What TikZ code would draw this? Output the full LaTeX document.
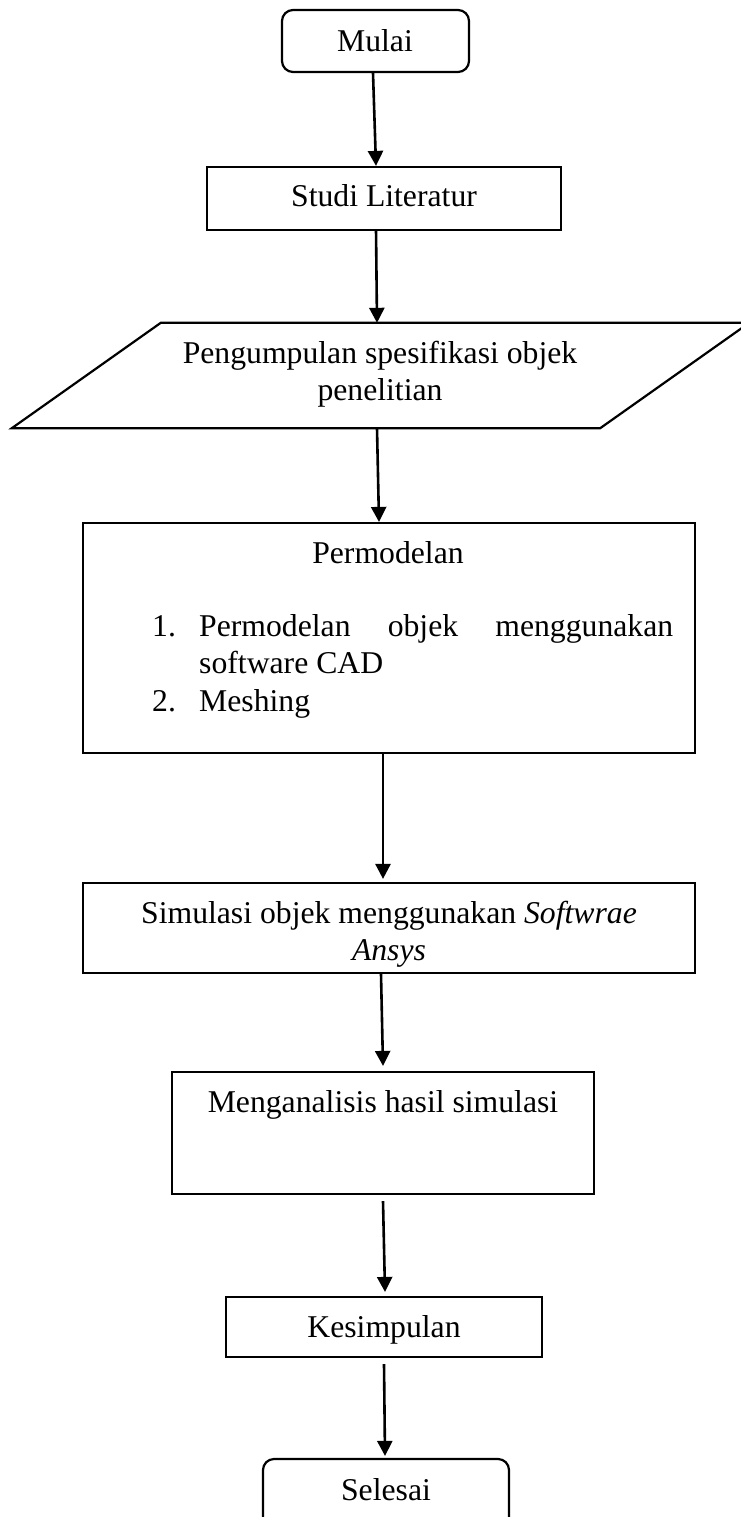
\documentclass[tikz,border=0pt]{standalone}
\usepackage{fontspec}
\setmainfont{Liberation Serif}
\usetikzlibrary{arrows.meta}
\tikzset{
 box/.style={draw, line width=2.2pt, inner sep=0pt, rectangle},
 rbox/.style={box, rounded corners=11pt},
 ghost/.style={inner sep=0pt, rectangle},
 txt/.style={font=\fontsize{31.7pt}{37pt}\selectfont, inner sep=0pt, anchor=base},
 ltxt/.style={txt, anchor=base west},
 arr/.style={line width=2.6pt, -{Triangle[width=15pt,length=15pt]}},
}
\begin{document}
\begin{tikzpicture}[x=1pt,y=-1pt]
\useasboundingbox (0,0) rectangle (741,1517);
% boxes
\node[rbox, minimum width=187pt, minimum height=62pt] (mulai) at (375.5,41) {};
\node[box, minimum width=354pt, minimum height=63pt] (studi) at (384,198.5) {};
\node[ghost, minimum width=737pt, minimum height=105pt] (peng) at (380.5,375.5) {};
\draw[line width=2.2pt] (peng.south west) -- ([xshift=149pt]peng.north west) -- (peng.north east) -- ([xshift=-149pt]peng.south east) -- cycle;
\node[box, minimum width=612pt, minimum height=230pt] (perm) at (389,638) {};
\node[box, minimum width=612pt, minimum height=90pt] (sim) at (389,928) {};
\node[box, minimum width=422pt, minimum height=122pt] (meng) at (383,1133) {};
\node[box, minimum width=316pt, minimum height=60pt] (kes) at (384,1327) {};
\node[rbox, minimum width=246pt, minimum height=101pt] (sel) at (386,1509.5) {};
% texts
\node[txt] (tmulai) at (375,52) {Mulai};
\node[txt] (tstudi) at (384,207) {Studi Literatur};
\node[txt] (tpeng1) at (380,363) {Pengumpulan spesifikasi objek};
\node[txt] (tpeng2) at (380,400) {penelitian};
\node[txt] (tperm) at (388,563) {Permodelan};
\node[ltxt] (n1) at (152,636) {1.};
\node[ltxt] (i1a) at (199,636) {\makebox[474pt][s]{Permodelan\hfill objek\hfill menggunakan}};
\node[ltxt] (i1b) at (199,673) {software CAD};
\node[ltxt] (n2) at (152,711) {2.};
\node[ltxt] (i2) at (199,711) {Meshing};
\node[txt] (tsim1) at (389,923) {Simulasi objek menggunakan \textit{Softwrae}};
\node[txt] (tsim2) at (389,960) {\textit{Ansys}};
\node[txt] (tmeng) at (383,1112) {Menganalisis hasil simulasi};
\node[txt] (tkes) at (384,1337) {Kesimpulan};
\node[txt] (tsel) at (386,1500) {Selesai};
% arrows
\draw[arr] ([xshift=-2.5pt]mulai.south) -- ([xshift=-8pt]studi.north);
\draw[arr] ([xshift=-8pt,yshift=2pt]studi.south) -- ([xshift=-3.5pt]peng.north);
\draw[arr] ([xshift=-3.5pt]peng.south) -- ([xshift=-10pt]perm.north);
\draw[arr] ([xshift=-6pt]perm.south) -- ([xshift=-6pt,yshift=3pt]sim.north);
\draw[arr] ([xshift=-8pt]sim.south) -- ([yshift=5pt]meng.north);
\draw[arr] ([yshift=-6pt]meng.south) -- ([xshift=1pt,yshift=4pt]kes.north);
\draw[arr] ([yshift=-6pt]kes.south) -- ([xshift=-1pt,yshift=2pt]sel.north);
\end{tikzpicture}
\end{document}
